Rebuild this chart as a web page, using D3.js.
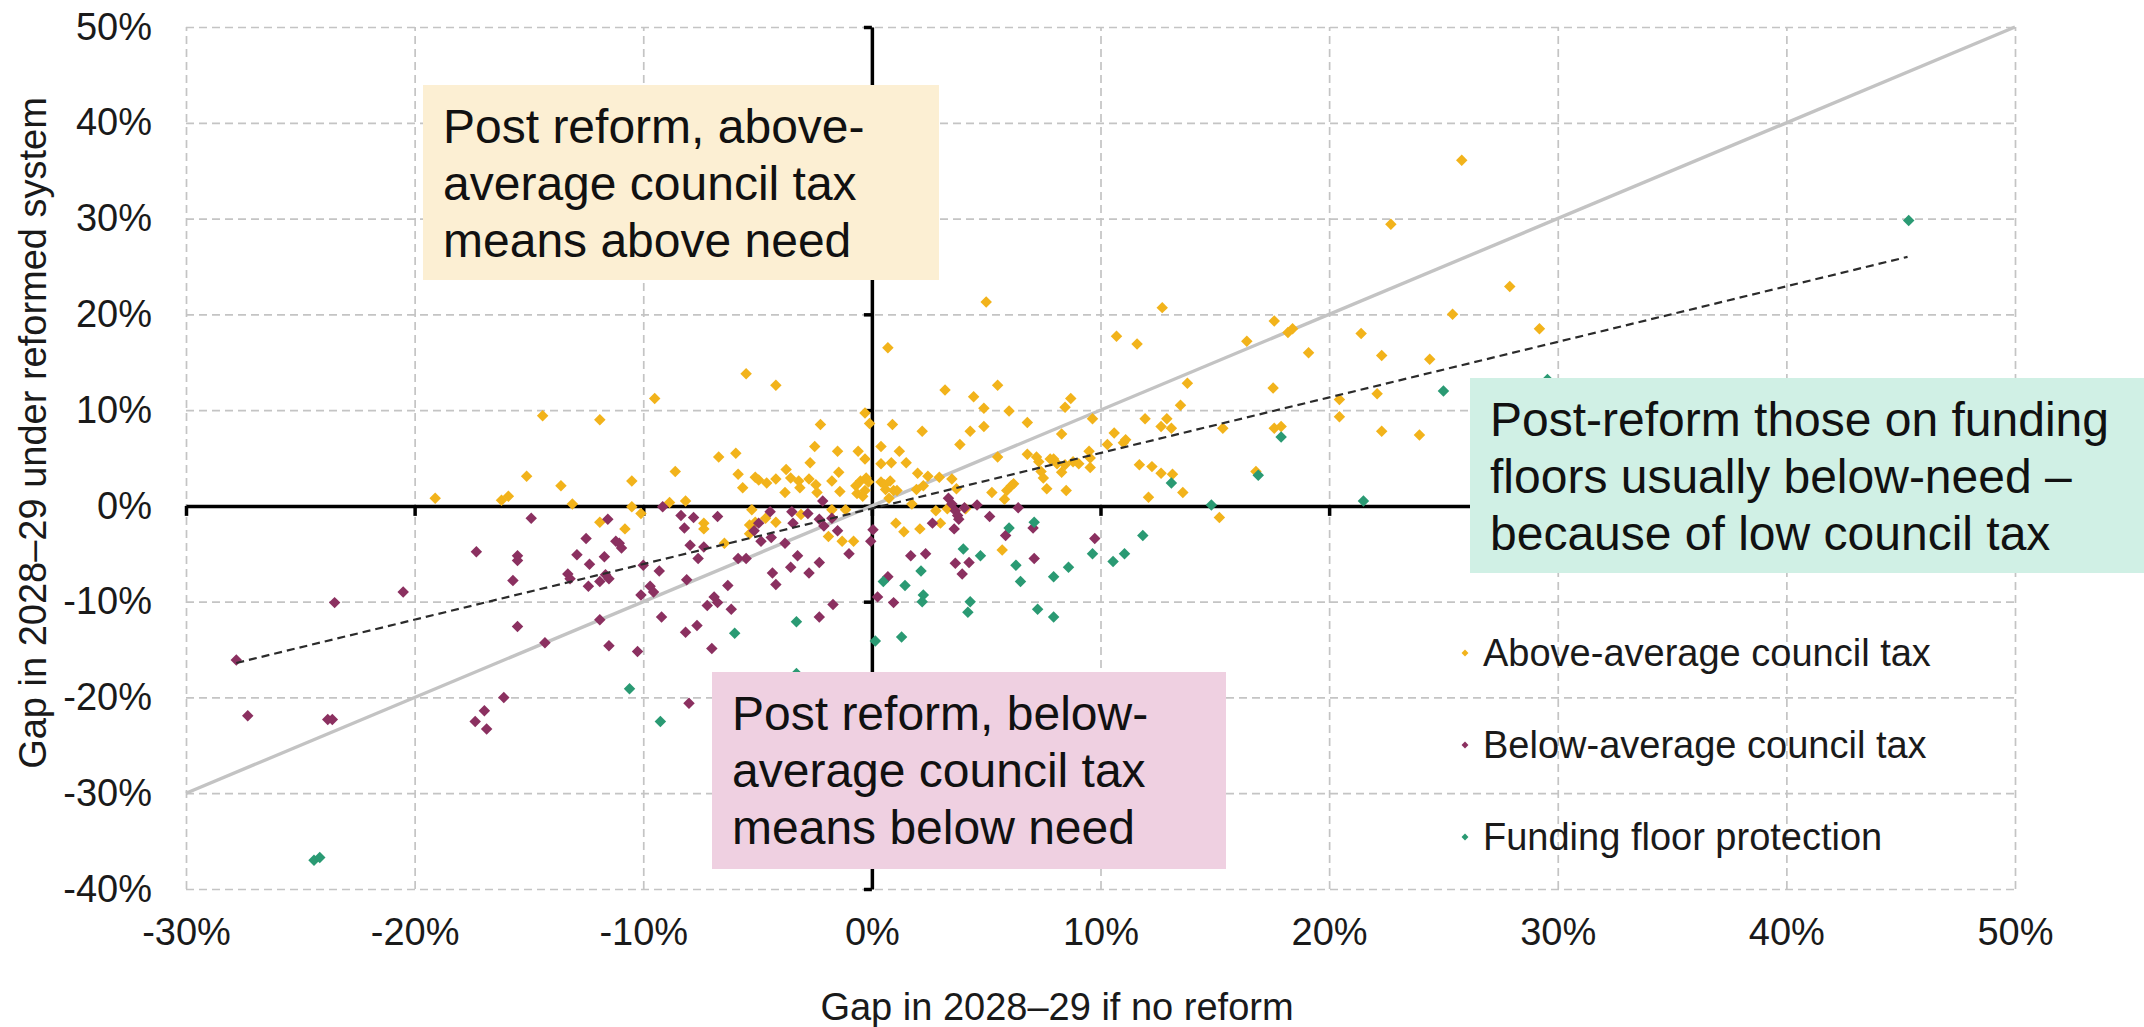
<!DOCTYPE html>
<html>
<head>
<meta charset="utf-8">
<script src="https://cdn.jsdelivr.net/npm/d3@7"></script>
<style>
  html, body { margin: 0; padding: 0; background: #fff; }
  svg { display: block; font-family: "Liberation Sans", Arial, sans-serif; }
</style>
</head>
<body>
<svg id="dessin" width="2144" height="1027"></svg>
<script>
// tick values (percent)
const xTicks = [-30, -20, -10, 0, 10, 20, 30, 40, 50];
const yTicks = [-40, -30, -20, -10, 0, 10, 20, 30, 40, 50];

// [gap if no reform, gap under reformed system], in %
const aboveAvg = [
  [-19.1,0.8],[-14.4,9.4],[-11.9,9.0],[-15.1,3.1],[-16.2,0.6],[-15.9,1.0],[-13.6,2.1],[-13.1,0.2],[-11.9,-1.7],
  [5.0,21.3],[12.7,20.7],[10.7,17.7],[11.6,16.9],[0.7,16.5],[-5.5,13.8],[16.4,17.2],[17.6,19.3],[18.2,18.1],
  [18.4,18.5],[19.1,16.0],[25.8,36.1],[22.7,29.4],[27.9,22.9],[25.4,20.0],[29.2,18.5],[21.4,18.0],[22.3,15.7],[24.4,15.3],
  [-4.2,12.6],[-9.5,11.2],[3.2,12.1],[5.5,12.6],[4.45,11.4],[4.9,10.2],[6.0,9.9],[-0.3,9.7],[-0.1,8.6],[-2.25,8.5],
  [0.9,8.5],[2.2,7.8],[4.3,7.8],[4.9,8.3],[6.8,8.7],[-2.5,6.2],[3.85,6.4],[-1.5,5.7],[-0.6,5.7],[-6.7,5.1],[-5.95,5.5],
  [-0.3,4.9],[0.4,6.2],[1.2,5.7],[1.5,4.5],[0.4,4.4],[0.85,4.5],[5.5,5.1],[6.8,5.4],[7.2,5.1],[7.3,4.6],[7.8,4.9],
  [-2.7,4.5],[-8.6,3.6],[-10.5,2.6],[-1.45,3.5],[-3.75,3.8],[-5.85,3.3],[-5.1,3.0],[-4.95,2.7],[-4.6,2.4],[-4.2,2.8],
  [-3.55,2.9],[-3.2,2.6],[-2.75,2.8],[-3.15,1.9],[-5.65,1.9],[-2.45,2.2],[-2.4,1.4],[-3.8,1.4],[-1.75,2.6],[-1.4,1.5],
  [-0.5,2.6],[-0.25,2.9],[-0.15,2.5],[-0.7,2.1],[-0.3,1.6],[-0.65,1.3],[-0.4,1.0],[0.4,2.5],[0.55,2.2],[0.8,2.6],
  [0.95,1.6],[0.6,1.7],[1.1,1.6],[0.75,0.8],[2.0,3.4],[2.45,3.1],[2.25,2.1],[1.95,1.7],[2.95,3.0],[3.5,2.8],[3.7,1.8],
  [5.25,1.4],[5.8,0.7],[5.9,1.6],[6.1,2.1],[6.2,2.3],[7.4,3.6],[7.5,2.9],[7.65,1.8],[1.75,0.2],[2.8,-0.5],[3.3,-0.3],
  [4.1,-0.3],[-10.5,-0.1],[-10.1,-0.8],[-8.85,0.35],[-8.15,0.5],[-5.25,-0.4],[-4.65,-1.3],[-5.1,-1.7],[-5.35,-2.0],
  [-5.35,-2.9],[-7.35,-1.8],[-7.35,-2.4],[-10.8,-2.4],[-6.45,-3.9],[-4.2,-1.7],[-3.1,-0.9],[-1.75,-0.4],[-1.15,-0.4],
  [-1.9,-3.2],[-1.3,-3.7],[-0.8,-3.7],[1.05,-1.8],[1.4,-2.7],[2.1,-2.4],[3.0,-1.8],[5.7,-4.6],
  [13.8,12.8],[17.55,12.3],[8.7,11.2],[8.45,10.3],[9.65,9.1],[13.5,10.5],[11.95,9.1],[12.65,8.3],[12.9,9.1],[13.1,8.1],
  [8.3,7.5],[10.6,7.6],[10.3,6.4],[11.0,6.6],[11.1,6.9],[9.5,5.7],[9.55,5.0],[9.55,4.0],[7.95,4.9],[8.1,4.4],[8.8,4.6],
  [9.05,4.4],[8.45,4.3],[8.3,3.5],[8.5,1.6],[11.7,4.3],[12.25,4.1],[12.65,3.4],[13.15,3.3],[12.1,0.9],[13.6,1.4],
  [15.35,8.1],[17.6,8.1],[17.9,8.3],[16.8,3.6],[15.2,-1.2],[20.45,11.1],[20.45,9.3],[22.1,11.7],[22.3,7.8],[23.95,7.4]
];

const belowAvg = [
  [-14.9,-1.3],[-17.3,-4.8],[-15.5,-5.2],[-15.5,-5.7],[-12.5,-3.4],[-12.9,-5.1],[-12.35,-6.1],[-15.7,-7.8],[-13.3,-7.1],
  [-13.2,-7.6],[-12.4,-8.4],[-20.5,-9.0],[-23.5,-10.1],[-27.8,-16.1],[-15.5,-12.6],[-14.3,-14.3],[-11.9,-11.9],
  [-27.3,-21.9],[-23.8,-22.3],[-23.6,-22.3],[-16.1,-20.0],[-16.95,-21.4],[-17.35,-22.5],[-16.85,-23.3],[-8.0,-20.6],
  [-9.15,-0.1],[-11.55,-1.4],[-8.35,-1.0],[-7.8,-1.2],[-6.75,-1.1],[-8.2,-2.3],[-11.2,-3.7],[-11.05,-3.9],[-10.95,-4.4],
  [-11.7,-5.3],[-7.95,-4.1],[-7.35,-4.3],[-7.6,-5.5],[-4.45,-0.6],[-3.5,-0.6],[-3.45,-1.8],[-2.8,-0.8],[-2.3,-1.4],
  [-2.15,0.5],[-1.75,-1.3],[-1.5,-2.6],[-2.1,-2.1],[-4.95,-1.8],[-5.15,-2.6],[-4.85,-3.7],[-4.4,-3.3],[-3.8,-3.9],
  [-3.25,-5.2],[-5.85,-5.5],[-5.5,-5.5],[-2.3,-5.9],[-1.0,-5.0],[-10.0,-6.2],[-11.65,-7.2],[-11.5,-7.6],[-11.9,-7.9],
  [-9.3,-6.8],[-4.35,-7.0],[-4.2,-8.2],[-3.55,-6.4],[-2.75,-7.0],[-9.7,-8.4],[-9.55,-9.0],[-10.1,-9.3],[-8.1,-7.7],
  [-6.3,-8.3],[-6.9,-9.5],[-6.75,-10.1],[-7.2,-10.4],[-6.15,-10.8],[-9.2,-11.6],[-7.65,-12.5],[-8.15,-13.2],
  [-2.3,-11.6],[-1.7,-10.3],[-11.5,-14.6],[-10.25,-15.2],[-7.0,-14.9],[0.05,-2.5],[-0.05,-3.7],[0.25,-9.5],[0.95,-10.1],
  [0.7,-7.4],[1.7,-5.2],[2.35,-5.0],[2.65,-1.8],[3.35,0.8],[3.5,0.2],[3.65,-0.5],[3.75,-1.0],[3.8,-1.4],[3.6,-2.4],
  [4.05,-0.2],[4.6,0.1],[5.15,-1.1],[3.65,-6.0],[4.25,-5.9],[3.95,-7.1],[5.85,-3.1],[6.4,-0.2],[7.05,-2.3],[7.1,-5.5],
  [9.75,-3.4]
];

const fundingFloor = [
  [6.0,-2.3],[7.1,-1.7],[4.0,-4.5],[4.75,-5.2],[2.15,-6.8],[0.5,-7.9],[1.45,-8.3],[2.25,-9.3],[2.2,-10.0],[6.3,-6.2],
  [6.5,-7.9],[4.3,-10.0],[4.2,-11.1],[7.25,-10.8],[7.95,-7.4],[7.95,-11.6],[-3.3,-12.1],[-6.0,-13.3],[0.15,-14.1],
  [1.3,-13.7],[-3.3,-17.5],[17.9,7.2],[16.9,3.2],[13.1,2.4],[14.85,0.1],[21.5,0.5],[25.0,12.0],[11.85,-3.1],[9.65,-5.0],
  [10.55,-5.8],[11.05,-5.0],[8.6,-6.4],[29.55,13.2],[45.35,29.8],[-10.6,-19.1],[-9.25,-22.5],[-24.4,-37.0],[-24.15,-36.7]
];

const diagonal = [[-30,-30],[50,50]];
const trendLine = [[-27.8,-16.4],[45.3,26.0]];

const seriesNames = ["Above-average council tax", "Below-average council tax", "Funding floor protection"];
const seriesColors = ["#F2B31B", "#8B3060", "#2A9A73"];

const noteAbove = ["Post reform, above-", "average council tax", "means above need"];
const noteBelow = ["Post reform, below-", "average council tax", "means below need"];
const noteFloor = ["Post-reform those on funding", "floors usually below-need \u2013", "because of low council tax"];

const xTitle = "Gap in 2028\u201329 if no reform";
const yTitle = "Gap in 2028\u201329 under reformed system";

const svg = d3.select("#dessin");
const x = d3.scaleLinear().domain([-30, 50]).range([186, 2015]);
const y = d3.scaleLinear().domain([-40, 50]).range([889, 27]);
const pct = d => d + "%";

// dashed grid
svg.append("g").attr("class", "grid")
  .attr("transform", `translate(0,${y(-40)})`)
  .call(d3.axisBottom(x).tickValues(xTicks).tickSize(-(y(-40) - y(50))).tickFormat(""))
  .call(g => g.select(".domain").remove());
svg.append("g").attr("class", "grid")
  .attr("transform", `translate(${x(-30)},0)`)
  .call(d3.axisLeft(y).tickValues(yTicks).tickSize(-(x(50) - x(-30))).tickFormat(""))
  .call(g => g.select(".domain").remove());
svg.selectAll(".grid line")
  .attr("stroke", "#c4c4c4")
  .attr("stroke-width", 1.7)
  .attr("stroke-dasharray", "8,5");

// tick labels
svg.append("g")
  .attr("transform", `translate(0,${y(-40)})`)
  .call(d3.axisBottom(x).tickValues(xTicks).tickSize(0).tickPadding(29).tickFormat(pct))
  .call(g => g.select(".domain").remove())
  .attr("font-size", 38).attr("font-family", null)
  .selectAll("text").attr("fill", "#1a1a1a");
svg.append("g")
  .attr("transform", `translate(${x(-30)},0)`)
  .call(d3.axisLeft(y).tickValues(yTicks).tickSize(0).tickPadding(34).tickFormat(pct))
  .call(g => g.select(".domain").remove())
  .attr("font-size", 38).attr("font-family", null)
  .selectAll("text").attr("fill", "#1a1a1a");

// black axes through zero
const zeroX = svg.append("g")
  .attr("transform", `translate(0,${y(0)})`)
  .call(d3.axisBottom(x).tickValues(xTicks).tickSize(10).tickSizeOuter(0).tickFormat(""));
const zeroY = svg.append("g")
  .attr("transform", `translate(${x(0)},0)`)
  .call(d3.axisLeft(y).tickValues(yTicks).tickSize(8).tickSizeOuter(0).tickFormat(""));
[zeroX, zeroY].forEach(g => g.selectAll("path, line").attr("stroke", "#000").attr("stroke-width", 3.5));

// 45 degree line and trend line
const line = d3.line().x(d => x(d[0])).y(d => y(d[1]));
svg.append("path").datum(diagonal)
  .attr("d", line).attr("fill", "none")
  .attr("stroke", "#c3c3c3").attr("stroke-width", 3.4);

// points
const diamond = d3.symbol().type(d3.symbolSquare).size(66);
[aboveAvg, belowAvg, fundingFloor].forEach((pts, i) => {
  svg.append("g")
    .selectAll("path")
    .data(pts)
    .join("path")
    .attr("d", diamond)
    .attr("transform", d => `translate(${x(d[0])},${y(d[1])}) rotate(45)`)
    .attr("fill", seriesColors[i]);
});

svg.append("path").datum(trendLine)
  .attr("d", line).attr("fill", "none")
  .attr("stroke", "#2b2b2b").attr("stroke-width", 2.2)
  .attr("stroke-dasharray", "8,5");

// legend
const leg = svg.append("g")
  .selectAll("g")
  .data(seriesNames)
  .join("g")
  .attr("transform", (d, i) => `translate(1465,${653 + i * 92})`);
leg.append("path")
  .attr("d", d3.symbol().type(d3.symbolSquare).size(24))
  .attr("transform", "rotate(45)")
  .attr("fill", (d, i) => seriesColors[i]);
leg.append("text")
  .attr("x", 18).attr("dy", "0.35em")
  .attr("font-size", 38).attr("fill", "#1a1a1a")
  .text(d => d);

// annotation boxes
function noteBox(lines, x0, y0, w, h, bg) {
  const g = svg.append("g");
  g.append("rect").attr("x", x0).attr("y", y0).attr("width", w).attr("height", h).attr("fill", bg);
  g.append("g").selectAll("text")
    .data(lines)
    .join("text")
    .attr("x", x0 + 20)
    .attr("y", (d, i) => y0 + 58 + i * 57)
    .attr("font-size", 48)
    .attr("fill", "#111")
    .text(d => d);
}
noteBox(noteAbove, 423, 85, 516, 195, "#FCEFD3");
noteBox(noteBelow, 712, 672, 514, 197, "#EFD0E1");
noteBox(noteFloor, 1470, 378, 674, 195, "#D0F0E5");

// axis titles
svg.append("text")
  .attr("x", 1057).attr("y", 1020)
  .attr("text-anchor", "middle")
  .attr("font-size", 38).attr("fill", "#1a1a1a")
  .text(xTitle);
svg.append("text")
  .attr("transform", "translate(46,433) rotate(-90)")
  .attr("text-anchor", "middle")
  .attr("font-size", 38).attr("fill", "#1a1a1a")
  .text(yTitle);
</script>
</body>
</html>
